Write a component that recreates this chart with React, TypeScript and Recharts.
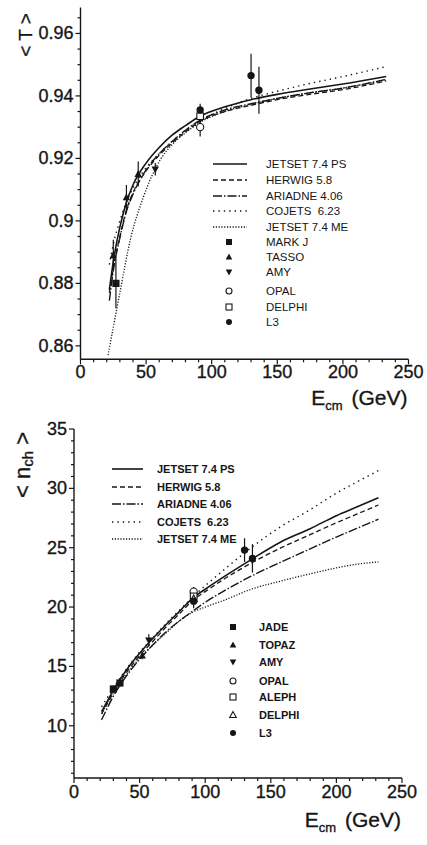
import React from 'react';
import { ComposedChart, Line, Scatter, XAxis, YAxis, ErrorBar, Legend } from 'recharts';

const FONT = '"Liberation Sans", Arial, Helvetica, sans-serif';
const INK = '#161616';

// ---------- Top panel: <T> vs Ecm ----------
const tE = [22, 25, 30, 35, 40, 50, 60, 70, 80, 91, 110, 130, 150, 175, 200, 233];
const tJetsetPS = [0.878, 0.887, 0.898, 0.906, 0.9115, 0.9185, 0.9235, 0.9275, 0.9305, 0.9335, 0.9365, 0.9388, 0.9405, 0.9422, 0.9438, 0.9462];
const tHerwig = [0.877, 0.885, 0.895, 0.9035, 0.909, 0.916, 0.921, 0.925, 0.9285, 0.9318, 0.935, 0.937, 0.9388, 0.9405, 0.942, 0.9448];
const tAriadne = [0.8745, 0.884, 0.8945, 0.903, 0.9085, 0.9163, 0.9215, 0.9255, 0.929, 0.9322, 0.9355, 0.9375, 0.9392, 0.941, 0.9425, 0.9453];
const tCojets = [0.886, 0.8925, 0.9, 0.906, 0.9105, 0.917, 0.9215, 0.9255, 0.929, 0.932, 0.936, 0.9392, 0.9415, 0.944, 0.9462, 0.9494];
const tMeE = [21, 25, 30, 38, 48, 61, 70, 81, 91, 110, 130, 150, 175, 200, 233];
const tJetsetME = [0.857, 0.866, 0.877, 0.894, 0.9077, 0.9197, 0.9245, 0.9285, 0.9315, 0.935, 0.9373, 0.9392, 0.941, 0.9425, 0.9452];

const tMarkJ = [{ E: 27, v: 0.88, err: 0.008 }];
const tTasso = [
  { E: 25, v: 0.889, err: 0.005 },
  { E: 35, v: 0.9075, err: 0.004 },
  { E: 44, v: 0.915, err: 0.004 },
];
const tAmy = [{ E: 57, v: 0.9165, err: 0.002 }];
const tOpal = [{ E: 91.2, v: 0.93, err: 0.003 }];
const tDelphi = [{ E: 91.2, v: 0.9335, err: 0.002 }];
const tL3 = [
  { E: 91.2, v: 0.9355, err: 0.002 },
  { E: 130, v: 0.9465, err: 0.007 },
  { E: 136, v: 0.9418, err: 0.0075 },
];

const tYTicks = [0.86, 0.865, 0.87, 0.875, 0.88, 0.885, 0.89, 0.895, 0.9, 0.905, 0.91, 0.915, 0.92, 0.925, 0.93, 0.935, 0.94, 0.945, 0.95, 0.955, 0.96, 0.965];

// ---------- Bottom panel: <n_ch> vs Ecm ----------
const nE = [21, 25, 30, 35, 40, 50, 60, 70, 80, 91, 100, 115, 135, 158, 180, 200, 215, 232];
const nJetsetPS = [11.2, 12.0, 13.0, 13.9, 14.7, 16.1, 17.35, 18.5, 19.6, 20.8, 21.5, 22.6, 24.0, 25.5, 26.6, 27.7, 28.4, 29.2];
const nHerwig = [11.0, 11.8, 12.8, 13.7, 14.5, 15.9, 17.1, 18.3, 19.4, 20.6, 21.3, 22.4, 23.7, 25.0, 26.1, 27.1, 27.8, 28.6];
const nAriadne = [10.5, 11.4, 12.5, 13.4, 14.2, 15.6, 16.8, 17.9, 18.8, 19.7, 20.4, 21.4, 22.6, 23.8, 24.9, 25.9, 26.6, 27.4];
const nCojets = [11.6, 12.3, 13.2, 14.0, 14.8, 16.2, 17.4, 18.6, 19.7, 20.9, 21.8, 23.2, 25.0, 26.8, 28.2, 29.6, 30.5, 31.5];
const nJetsetME = [11.0, 11.8, 12.7, 13.5, 14.3, 15.7, 16.8, 17.8, 18.8, 19.6, 20.0, 20.6, 21.5, 22.2, 22.8, 23.3, 23.6, 23.8];

const nJade = [
  { E: 30, v: 13.1, err: 0.3 },
  { E: 35, v: 13.6, err: 0.3 },
];
const nTopaz = [{ E: 52, v: 15.9, err: 0.3 }];
const nAmy = [{ E: 57, v: 17.2, err: 0.5 }];
const nOpal = [{ E: 91.2, v: 21.3, err: 0.4 }];
const nAleph = [{ E: 91.2, v: 20.9, err: 0.5 }];
const nDelphi = [{ E: 91.2, v: 20.7, err: 0.5 }];
const nL3 = [
  { E: 91.2, v: 20.5, err: 0.6 },
  { E: 130, v: 24.8, err: 1.0 },
  { E: 136, v: 24.1, err: 1.2 },
];

const nYTicks = [6, 7, 8, 9, 10, 11, 12, 13, 14, 15, 16, 17, 18, 19, 20, 21, 22, 23, 24, 25, 26, 27, 28, 29, 30, 31, 32, 33, 34, 35];

const xTicks = [0, 10, 20, 30, 40, 50, 60, 70, 80, 90, 100, 110, 120, 130, 140, 150, 160, 170, 180, 190, 200, 210, 220, 230, 240, 250];

// ---------- Styles ----------
const curveNames = ['JETSET 7.4 PS', 'HERWIG 5.8', 'ARIADNE 4.06', 'COJETS  6.23', 'JETSET 7.4 ME'];
const curveDash = ['', '5 3', '9 2 1.5 2', '1.4 4', '1.2 1.6'];
const curveWidth = [1.6, 1.3, 1.4, 1.4, 1.3];

const zip = (xs: number[], ys: number[]) => xs.map((E, i) => ({ E, v: ys[i] }));

function drawMarker(kind: string, cx: number, cy: number, s: number, key?: any) {
  switch (kind) {
    case 'sq':
      return <rect key={key} x={cx - s} y={cy - s} width={2 * s} height={2 * s} fill={INK} />;
    case 'sqo':
      return <rect key={key} x={cx - s} y={cy - s} width={2 * s} height={2 * s} fill="#fff" stroke={INK} strokeWidth={1.1} />;
    case 'tri':
      return <polygon key={key} points={`${cx},${cy - s * 1.15} ${cx - s * 1.1},${cy + s * 0.85} ${cx + s * 1.1},${cy + s * 0.85}`} fill={INK} />;
    case 'trio':
      return <polygon key={key} points={`${cx},${cy - s * 1.15} ${cx - s * 1.1},${cy + s * 0.85} ${cx + s * 1.1},${cy + s * 0.85}`} fill="#fff" stroke={INK} strokeWidth={1.1} />;
    case 'trid':
      return <polygon key={key} points={`${cx},${cy + s * 1.15} ${cx - s * 1.1},${cy - s * 0.85} ${cx + s * 1.1},${cy - s * 0.85}`} fill={INK} />;
    case 'circo':
      return <circle key={key} cx={cx} cy={cy} r={s} fill="#fff" stroke={INK} strokeWidth={1.1} />;
    default:
      return <circle key={key} cx={cx} cy={cy} r={s} fill={INK} />;
  }
}

const shapeOf = (kind: string, s: number) => (p: any) => {
  if (p.cx == null || p.cy == null) return <g />;
  return drawMarker(kind, p.cx, p.cy, s);
};

const isMultiple = (v: number, m: number) => Math.abs(v / m - Math.round(v / m)) < 1e-6;

const textThick = { stroke: INK, strokeWidth: 0.35 };

const XTick = (major: number, labelDy: number) => (props: any) => {
  const { x, y, payload } = props;
  const v = payload.value;
  const big = isMultiple(v, major);
  return (
    <g>
      <line x1={x} y1={y} x2={x} y2={y + (big ? 5 : 3)} stroke={INK} strokeWidth={1.2} />
      {big && (
        <text x={x} y={y + labelDy} textAnchor="middle" fontSize={18} fontFamily={FONT} fill={INK} {...textThick}>
          {String(v)}
        </text>
      )}
    </g>
  );
};

const YTick = (major: number) => (props: any) => {
  const { x, y, payload } = props;
  const v = payload.value;
  const big = isMultiple(v, major);
  return (
    <g>
      <line x1={x} y1={y} x2={x - (big ? 5 : 3)} y2={y} stroke={INK} strokeWidth={1.2} />
      {big && (
        <text x={x - 7} y={y} textAnchor="end" dominantBaseline="central" fontSize={18} fontFamily={FONT} fill={INK} {...textThick}>
          {String(v)}
        </text>
      )}
    </g>
  );
};

const XTitle = (dy: number) => (p: any) => {
  const vb = p.viewBox || { x: 80, y: 360, width: 328, height: 60 };
  return (
    <text x={vb.x + vb.width - 1} y={vb.y + dy} textAnchor="end" fontSize={21} fontFamily={FONT} fill={INK} {...textThick}>
      <tspan>E</tspan>
      <tspan fontSize={13} dy={5}>cm</tspan>
      <tspan dy={-5} dx={9}>(GeV)</tspan>
    </text>
  );
};

const YTitleT = (p: any) => {
  const vb = p.viewBox || { x: 0, y: 7, width: 80, height: 350 };
  const cx = vb.x + 25;
  const cy = vb.y + 27.5;
  return (
    <text x={cx} y={cy} transform={`rotate(-90, ${cx}, ${cy})`} textAnchor="middle" dominantBaseline="central" fontSize={19} fontFamily={FONT} fill={INK} {...textThick}>
      {'< T >'}
    </text>
  );
};

const YTitleN = (p: any) => {
  const vb = p.viewBox || { x: 0, y: 9, width: 74, height: 350 };
  const cx = vb.x + 22;
  const cy = vb.y + 36;
  return (
    <text x={cx} y={cy} transform={`rotate(-90, ${cx}, ${cy})`} textAnchor="middle" dominantBaseline="central" fontSize={22} fontFamily={FONT} fill={INK} {...textThick}>
      <tspan>{'< n'}</tspan>
      <tspan fontSize={15} dy={5}>ch</tspan>
      <tspan dy={-5}>{' >'}</tspan>
    </text>
  );
};

type LegendSpec = {
  left: number;
  top: number;
  width: number;
  height: number;
  lineX: [number, number];
  lineText: number;
  lineRows: number[];
  symX: number;
  symText: number;
  symRows: number[];
  symbols: { kind: string; name: string }[];
  fontSize: number;
  fontWeight: string;
};

function LegendBox({ spec }: { spec: LegendSpec }) {
  const ox = spec.left;
  const oy = spec.top;
  return (
    <svg width={spec.width} height={spec.height} style={{ display: 'block', overflow: 'visible' }}>
      {curveNames.map((n, i) => (
        <g key={n}>
          <line
            x1={spec.lineX[0] - ox}
            x2={spec.lineX[1] - ox}
            y1={spec.lineRows[i] - oy}
            y2={spec.lineRows[i] - oy}
            stroke={INK}
            strokeWidth={curveWidth[i]}
            strokeDasharray={curveDash[i] || undefined}
          />
          <text x={spec.lineText - ox} y={spec.lineRows[i] - oy} dominantBaseline="central" fontSize={spec.fontSize} fontWeight={spec.fontWeight} fontFamily={FONT} fill={INK} style={{ whiteSpace: 'pre' }}>
            {n}
          </text>
        </g>
      ))}
      {spec.symbols.map((s, i) => (
        <g key={s.name}>
          {drawMarker(s.kind, spec.symX - ox, spec.symRows[i] - oy, 3)}
          <text x={spec.symText - ox} y={spec.symRows[i] - oy} dominantBaseline="central" fontSize={spec.fontSize} fontWeight={spec.fontWeight} fontFamily={FONT} fill={INK}>
            {s.name}
          </text>
        </g>
      ))}
    </svg>
  );
}

const topLegend: LegendSpec = {
  left: 205,
  top: 150,
  width: 150,
  height: 185,
  lineX: [213, 247],
  lineText: 266,
  lineRows: [164, 180, 196, 211, 227],
  symX: 229,
  symText: 266,
  symRows: [242, 257, 272, 291, 307, 322],
  symbols: [
    { kind: 'sq', name: 'MARK J' },
    { kind: 'tri', name: 'TASSO' },
    { kind: 'trid', name: 'AMY' },
    { kind: 'circo', name: 'OPAL' },
    { kind: 'sqo', name: 'DELPHI' },
    { kind: 'circ', name: 'L3' },
  ],
  fontSize: 11.5,
  fontWeight: 'normal',
};

const bottomLegend: LegendSpec = {
  left: 100,
  top: 35,
  width: 230,
  height: 290,
  lineX: [112, 143],
  lineText: 157,
  lineRows: [49, 67, 84, 102, 119],
  symX: 233,
  symText: 259,
  symRows: [207, 225, 242, 261, 277, 295, 313],
  symbols: [
    { kind: 'sq', name: 'JADE' },
    { kind: 'tri', name: 'TOPAZ' },
    { kind: 'trid', name: 'AMY' },
    { kind: 'circo', name: 'OPAL' },
    { kind: 'sqo', name: 'ALEPH' },
    { kind: 'trio', name: 'DELPHI' },
    { kind: 'circ', name: 'L3' },
  ],
  fontSize: 11,
  fontWeight: 'bold',
};

const axisLine = { stroke: INK, strokeWidth: 1.4 };

function curveLines(sets: { E: number; v: number }[][]) {
  return sets.map((d, i) => (
    <Line
      key={'c' + i}
      data={d}
      dataKey="v"
      type="monotone"
      stroke={INK}
      strokeWidth={curveWidth[i]}
      strokeDasharray={curveDash[i] || undefined}
      dot={false}
      activeDot={false}
      isAnimationActive={false}
      legendType="none"
    />
  ));
}

function points(sets: { data: any[]; kind: string; size: number }[]) {
  return sets.map((s, i) => (
    <Scatter key={'p' + i} data={s.data} shape={shapeOf(s.kind, s.size)} isAnimationActive={false} legendType="none">
      <ErrorBar dataKey="err" direction="y" width={0} stroke={INK} strokeWidth={1.2} isAnimationActive={false} />
    </Scatter>
  ));
}

function ThrustChart() {
  return (
    <ComposedChart width={427} height={420} margin={{ top: 7.5, right: 18.5, bottom: 0, left: 0 }}>
      <XAxis
        xAxisId={0}
        type="number"
        dataKey="E"
        domain={[0, 250]}
        ticks={xTicks}
        interval={0}
        allowDataOverflow
        height={60.7}
        tickSize={0}
        tickMargin={0}
        tickLine={false}
        axisLine={axisLine}
        tick={XTick(50, 19)}
        label={XTitle(46)}
      />
      <XAxis xAxisId="top" orientation="top" type="number" domain={[0, 250]} allowDataOverflow height={0} tick={false} tickLine={false} axisLine={axisLine} />
      <YAxis
        yAxisId={0}
        type="number"
        dataKey="v"
        domain={[0.8557, 0.9683]}
        ticks={tYTicks}
        interval={0}
        allowDataOverflow
        width={80.5}
        tickSize={0}
        tickMargin={0}
        tickLine={false}
        axisLine={axisLine}
        tick={YTick(0.02)}
        label={YTitleT}
      />
      <YAxis yAxisId="right" orientation="right" type="number" domain={[0.8557, 0.9683]} allowDataOverflow width={0} tick={false} tickLine={false} axisLine={axisLine} />
      {curveLines([zip(tE, tJetsetPS), zip(tE, tHerwig), zip(tE, tAriadne), zip(tE, tCojets), zip(tMeE, tJetsetME)])}
      {points([
        { data: tMarkJ, kind: 'sq', size: 3.6 },
        { data: tTasso, kind: 'tri', size: 3.4 },
        { data: tAmy, kind: 'trid', size: 3.4 },
        { data: tOpal, kind: 'circo', size: 3.6 },
        { data: tDelphi, kind: 'sqo', size: 3.3 },
        { data: tL3, kind: 'circ', size: 3.7 },
      ])}
      <Legend
        layout="vertical"
        align="center"
        verticalAlign="middle"
        wrapperStyle={{ position: 'absolute', left: topLegend.left, top: topLegend.top, width: topLegend.width, height: topLegend.height }}
        content={() => <LegendBox spec={topLegend} />}
      />
    </ComposedChart>
  );
}

function MultChart() {
  return (
    <ComposedChart width={427} height={425} margin={{ top: 9, right: 25, bottom: 0, left: 0 }}>
      <XAxis
        xAxisId={0}
        type="number"
        dataKey="E"
        domain={[0, 250]}
        ticks={xTicks}
        interval={0}
        allowDataOverflow
        height={67}
        tickSize={0}
        tickMargin={0}
        tickLine={false}
        axisLine={axisLine}
        tick={XTick(50, 20)}
        label={XTitle(49)}
      />
      <XAxis xAxisId="top" orientation="top" type="number" domain={[0, 250]} allowDataOverflow height={0} tick={false} tickLine={false} axisLine={axisLine} />
      <YAxis
        yAxisId={0}
        type="number"
        dataKey="v"
        domain={[5.6, 35]}
        ticks={nYTicks}
        interval={0}
        allowDataOverflow
        width={74}
        tickSize={0}
        tickMargin={0}
        tickLine={false}
        axisLine={axisLine}
        tick={YTick(5)}
        label={YTitleN}
      />
      <YAxis yAxisId="right" orientation="right" type="number" domain={[5.6, 35]} allowDataOverflow width={0} tick={false} tickLine={false} axisLine={axisLine} />
      {curveLines([zip(nE, nJetsetPS), zip(nE, nHerwig), zip(nE, nAriadne), zip(nE, nCojets), zip(nE, nJetsetME)])}
      {points([
        { data: nJade, kind: 'sq', size: 3.6 },
        { data: nTopaz, kind: 'tri', size: 3.4 },
        { data: nAmy, kind: 'trid', size: 3.4 },
        { data: nOpal, kind: 'circo', size: 3.6 },
        { data: nAleph, kind: 'sqo', size: 3.3 },
        { data: nDelphi, kind: 'trio', size: 3.3 },
        { data: nL3, kind: 'circ', size: 3.7 },
      ])}
      <Legend
        layout="vertical"
        align="center"
        verticalAlign="middle"
        wrapperStyle={{ position: 'absolute', left: bottomLegend.left, top: bottomLegend.top, width: bottomLegend.width, height: bottomLegend.height }}
        content={() => <LegendBox spec={bottomLegend} />}
      />
    </ComposedChart>
  );
}

export default function App() {
  return (
    <div style={{ position: 'absolute', left: 0, top: 0, width: 427, height: 845, background: '#fff', overflow: 'hidden' }}>
      <div style={{ position: 'absolute', left: 0, top: 0 }}>
        <ThrustChart />
      </div>
      <div style={{ position: 'absolute', left: 0, top: 420 }}>
        <MultChart />
      </div>
    </div>
  );
}
